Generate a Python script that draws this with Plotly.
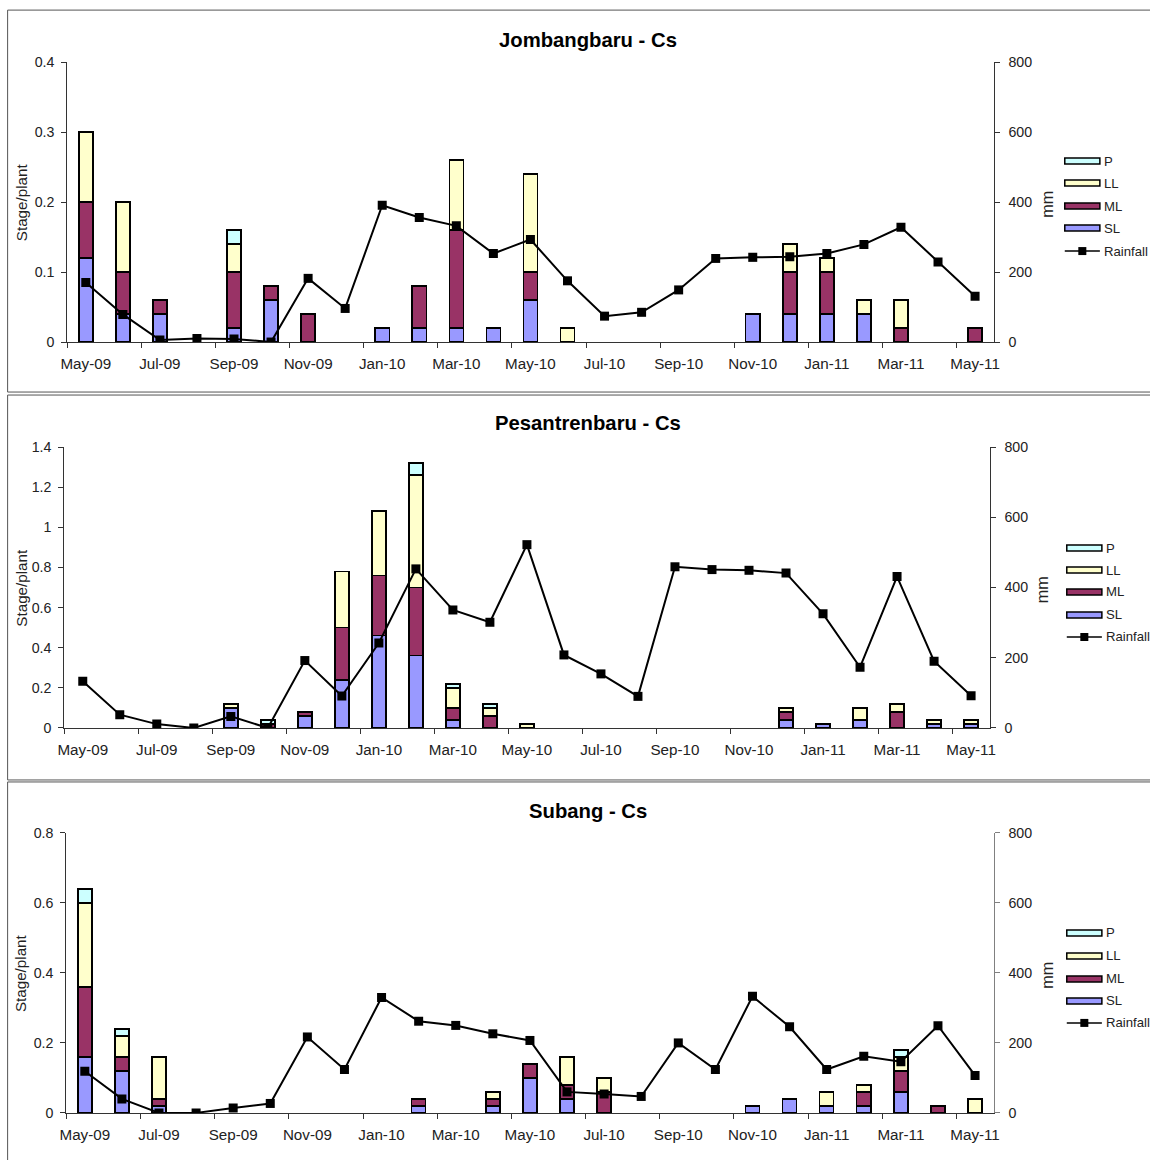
import plotly.graph_objects as go

# The page is photographed from a 1166x1176 css-pixel view (body margin 8px)
# and shrunk to 1150x1160, so layout positions are given in final pixels and
# mapped into figure pixels here.
OUT_W, OUT_H = 1150, 1160
VIEW_W, VIEW_H = 1166, 1176
BODY_MARGIN = 8
KX, KY = VIEW_W / OUT_W, VIEW_H / OUT_H
W, H = VIEW_W - BODY_MARGIN, VIEW_H - 2 * BODY_MARGIN
FONT = "Liberation Sans, Arial, sans-serif"

months = ["May-09", "Jun-09", "Jul-09", "Aug-09", "Sep-09", "Oct-09", "Nov-09",
          "Dec-09", "Jan-10", "Feb-10", "Mar-10", "Apr-10", "May-10", "Jun-10",
          "Jul-10", "Aug-10", "Sep-10", "Oct-10", "Nov-10", "Dec-10", "Jan-11",
          "Feb-11", "Mar-11", "Apr-11", "May-11"]

# Jombangbaru - stages per plant and monthly rainfall (mm)
jb_sl = [0.12, 0.04, 0.04, 0, 0.02, 0.06, 0, 0, 0.02, 0.02, 0.02, 0.02, 0.06, 0,
         0, 0, 0, 0, 0.04, 0.04, 0.04, 0.04, 0, 0, 0]
jb_ml = [0.08, 0.06, 0.02, 0, 0.08, 0.02, 0.04, 0, 0, 0.06, 0.14, 0, 0.04, 0,
         0, 0, 0, 0, 0, 0.06, 0.06, 0, 0.02, 0, 0.02]
jb_ll = [0.10, 0.10, 0, 0, 0.04, 0, 0, 0, 0, 0, 0.10, 0, 0.14, 0.02,
         0, 0, 0, 0, 0, 0.04, 0.02, 0.02, 0.04, 0, 0]
jb_p = [0, 0, 0, 0, 0.02, 0, 0, 0, 0, 0, 0, 0, 0, 0,
        0, 0, 0, 0, 0, 0, 0, 0, 0, 0, 0]
jb_rain = [170, 79, 6, 10, 9, 0, 182, 96, 391, 356, 332, 253, 293, 175,
           74, 85, 149, 239, 242, 244, 253, 279, 328, 229, 131]

# Pesantrenbaru
ps_sl = [0, 0, 0, 0, 0.10, 0, 0.06, 0.24, 0.46, 0.36, 0.04, 0, 0, 0,
         0, 0, 0, 0, 0, 0.04, 0.02, 0.04, 0, 0.02, 0.02]
ps_ml = [0, 0, 0, 0, 0, 0.02, 0.02, 0.26, 0.30, 0.34, 0.06, 0.06, 0, 0,
         0, 0, 0, 0, 0, 0.04, 0, 0, 0.08, 0, 0]
ps_ll = [0, 0, 0, 0, 0.02, 0, 0, 0.28, 0.32, 0.56, 0.10, 0.04, 0.02, 0,
         0, 0, 0, 0, 0, 0.02, 0, 0.06, 0.04, 0.02, 0.02]
ps_p = [0, 0, 0, 0, 0, 0.02, 0, 0, 0, 0.06, 0.02, 0.02, 0, 0,
        0, 0, 0, 0, 0, 0, 0, 0, 0, 0, 0]
ps_rain = [133, 38, 11, 0, 33, 0, 192, 91, 242, 453, 336, 301, 522, 208,
           154, 90, 459, 451, 449, 441, 325, 173, 431, 190, 92]

# Subang
sb_sl = [0.16, 0.12, 0.02, 0, 0, 0, 0, 0, 0, 0.02, 0, 0.02, 0.10, 0.04,
         0, 0, 0, 0, 0.02, 0.04, 0.02, 0.02, 0.06, 0, 0]
sb_ml = [0.20, 0.04, 0.02, 0, 0, 0, 0, 0, 0, 0.02, 0, 0.02, 0.04, 0.04,
         0.06, 0, 0, 0, 0, 0, 0, 0.04, 0.06, 0.02, 0]
sb_ll = [0.24, 0.06, 0.12, 0, 0, 0, 0, 0, 0, 0, 0, 0.02, 0, 0.08,
         0.04, 0, 0, 0, 0, 0, 0.04, 0.02, 0.04, 0, 0.04]
sb_p = [0.04, 0.02, 0, 0, 0, 0, 0, 0, 0, 0, 0, 0, 0, 0,
        0, 0, 0, 0, 0, 0, 0, 0, 0.02, 0, 0]
sb_rain = [119, 40, 0, 0, 14, 27, 217, 124, 330, 262, 250, 226, 207, 60,
           54, 47, 200, 124, 333, 246, 124, 162, 146, 249, 107]

stage_names = ["SL", "ML", "LL", "P"]
stage_colors = {"SL": "#9999FF", "ML": "#993366", "LL": "#FFFFCC", "P": "#CCFFFF"}

# pixel frame of each plot area: left, right, top, bottom
panels = [
    dict(title="Jombangbaru - Cs", stages=[jb_sl, jb_ml, jb_ll, jb_p], rain=jb_rain,
         ymax=0.4, dtick=0.1, box=(68, 992, 62, 342), frame=(8.5, 10, 1170, 392),
         leg_x=1063, leg_y=[161, 183, 206, 228, 251], title_y=40, right_col="#333333"),
    dict(title="Pesantrenbaru - Cs", stages=[ps_sl, ps_ml, ps_ll, ps_p], rain=ps_rain,
         ymax=1.4, dtick=0.2, box=(65, 988, 447, 728), frame=(8.5, 395, 1170, 780),
         leg_x=1065, leg_y=[548, 570, 592, 615, 637], title_y=423, right_col="#333333"),
    dict(title="Subang - Cs", stages=[sb_sl, sb_ml, sb_ll, sb_p], rain=sb_rain,
         ymax=0.8, dtick=0.2, box=(67, 992, 833, 1113), frame=(8.5, 782, 1170, 1180),
         leg_x=1065, leg_y=[933, 956, 979, 1001, 1023], title_y=811, right_col="#808080"),
]


def px(x):
    return (x * KX - BODY_MARGIN) / W


def py(y):
    return 1 - (y * KY - BODY_MARGIN) / H


def fs(size):
    return size * KY


xs = list(range(len(months)))
fig = go.Figure()
layout = dict(
    width=W, height=H, margin=dict(l=0, r=0, t=0, b=0), autosize=False,
    paper_bgcolor="white", plot_bgcolor="white", barmode="stack",
    font=dict(family=FONT, size=fs(14), color="#222222"), showlegend=False,
)
shapes, annotations = [], []
tick_font = dict(family=FONT, size=fs(14), color="#222222")

for k, pnl in enumerate(panels):
    xa = "x" if k == 0 else f"x{k + 1}"
    ya = "y" if k == 0 else f"y{2 * k + 1}"
    yb = f"y{2 * k + 2}"
    L, R, T, B = pnl["box"]

    for name, vals in zip(stage_names, pnl["stages"]):
        fig.add_trace(go.Bar(
            x=xs, y=[v if v else None for v in vals], name=name,
            xaxis=xa, yaxis=ya, width=0.38,
            marker=dict(color=stage_colors[name], line=dict(color="black", width=1.5)),
        ))
    fig.add_trace(go.Scatter(
        x=xs, y=pnl["rain"], name="Rainfall", xaxis=xa, yaxis=yb,
        mode="lines+markers", line=dict(color="black", width=2),
        marker=dict(symbol="square", size=9, color="black"),
    ))

    xkey = "xaxis" if k == 0 else f"xaxis{k + 1}"
    ykey = "yaxis" if k == 0 else f"yaxis{2 * k + 1}"
    ykey2 = f"yaxis{2 * k + 2}"
    layout[xkey] = dict(
        domain=[px(L), px(R)], anchor=ya, range=[-0.5, len(months) - 0.5],
        tickmode="array", tickvals=xs[::2], ticktext=months[::2], ticks="",
        ticklabelstandoff=8, tickfont=dict(family=FONT, size=fs(15), color="#222222"),
        showline=True, linecolor="#333333", linewidth=1, showgrid=False, zeroline=False,
        minor=dict(tickmode="array", tickvals=[i - 0.5 for i in xs[::2]],
                   ticks="outside", ticklen=5, tickcolor="#333333", showgrid=False),
    )
    layout[ykey] = dict(
        domain=[py(B), py(T)], anchor=xa, range=[0, pnl["ymax"]], dtick=pnl["dtick"],
        tick0=0, ticks="outside", ticklen=5, tickcolor="#333333", tickfont=tick_font,
        showline=True, linecolor="#333333", linewidth=1, showgrid=False, zeroline=False,
        ticklabelstandoff=4,
    )
    layout[ykey2] = dict(
        overlaying=ya, anchor=xa, side="right", range=[0, 800], dtick=200, tick0=0,
        ticks="outside", ticklen=5, tickcolor=pnl["right_col"], tickfont=tick_font,
        showline=True, linecolor=pnl["right_col"], linewidth=1, showgrid=False,
        zeroline=False, ticklabelstandoff=6,
    )

    # panel border
    fx0, fy0, fx1, fy1 = pnl["frame"]
    shapes.append(dict(type="rect", xref="paper", yref="paper",
                       x0=px(fx0), x1=px(fx1), y0=py(fy1), y1=py(fy0),
                       line=dict(color="#555555", width=1), fillcolor="rgba(0,0,0,0)",
                       layer="below"))

    # titles
    annotations.append(dict(text=f"<b>{pnl['title']}</b>", xref="paper", yref="paper",
                            x=px(587), y=py(pnl["title_y"]), showarrow=False,
                            xanchor="center", yanchor="middle",
                            font=dict(family=FONT, size=fs(20), color="black")))
    annotations.append(dict(text="Stage/plant", xref="paper", yref="paper",
                            x=px(22), y=py((T + B) / 2), showarrow=False, textangle=-90,
                            xanchor="center", yanchor="middle",
                            font=dict(family=FONT, size=fs(15), color="#222222")))
    annotations.append(dict(text="mm", xref="paper", yref="paper",
                            x=px(R + 53), y=py((T + B) / 2 + 2), showarrow=False,
                            textangle=-90, xanchor="center", yanchor="middle",
                            font=dict(family=FONT, size=fs(16), color="#222222")))

    # legend keys: P, LL, ML, SL, Rainfall
    lx = pnl["leg_x"]
    for name, cy in zip(["P", "LL", "ML", "SL"], pnl["leg_y"][:4]):
        shapes.append(dict(type="rect", xref="paper", yref="paper",
                           x0=px(lx), x1=px(lx + 35), y0=py(cy + 3), y1=py(cy - 3),
                           fillcolor=stage_colors[name], line=dict(color="black", width=1.5)))
        annotations.append(dict(text=name, xref="paper", yref="paper",
                                x=px(lx + 37), y=py(cy), showarrow=False,
                                xanchor="left", yanchor="middle",
                                font=dict(family=FONT, size=fs(13), color="#222222")))
    cy = pnl["leg_y"][4]
    shapes.append(dict(type="line", xref="paper", yref="paper",
                       x0=px(lx), x1=px(lx + 35), y0=py(cy), y1=py(cy),
                       line=dict(color="black", width=1.5)))
    shapes.append(dict(type="rect", xref="paper", yref="paper",
                       x0=px(lx + 13.5), x1=px(lx + 21.5), y0=py(cy + 4), y1=py(cy - 4),
                       fillcolor="black", line=dict(color="black", width=0)))
    annotations.append(dict(text="Rainfall", xref="paper", yref="paper",
                            x=px(lx + 37), y=py(cy), showarrow=False,
                            xanchor="left", yanchor="middle",
                            font=dict(family=FONT, size=fs(13), color="#222222")))

layout["shapes"] = shapes
layout["annotations"] = annotations
fig.update_layout(**layout)
fig.write_html("out.html")
